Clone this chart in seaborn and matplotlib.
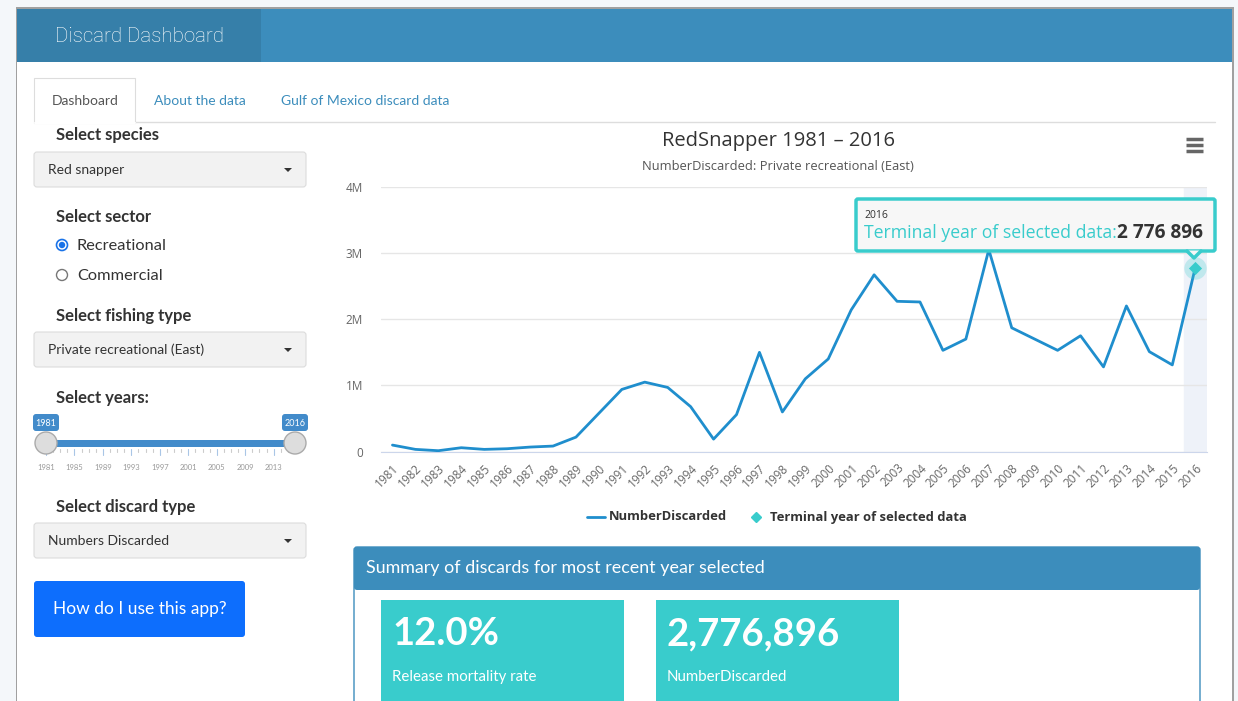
import matplotlib
matplotlib.use("Agg")
import matplotlib.pyplot as plt
import matplotlib.patches as mpatches
from matplotlib.ticker import FuncFormatter, FixedLocator
import seaborn as sns
import pandas as pd

# Data
years = [str(y) for y in range(1981, 2017)]
discarded = [100000, 35000, 15000, 60000, 35000, 45000, 70000, 85000, 220000, 580000,
             940000, 1050000, 970000, 680000, 190000, 560000, 1500000, 600000, 1100000, 1400000,
             2140000, 2670000, 2270000, 2260000, 1530000, 1700000, 3050000, 1870000, 1700000, 1530000,
             1750000, 1280000, 2200000, 1510000, 1310000, 2776896]
terminal_year = "2016"
terminal_value = 2776896
mortality_rate = "12.0%"
slider_ticks = ["1981", "1985", "1989", "1993", "1997", "2001", "2005", "2009", "2013"]

W, H = 1238, 701
BLUE = "#3c8dbc"
DARK_BLUE = "#367fa9"
TEAL = "#39cccc"
LINE = "#1f8ecd"
UI_FONT = "Lato"
CH_FONT = "Open Sans"

sns.set_style("white")
plt.rcParams["font.family"] = [UI_FONT, "DejaVu Sans"]

fig = plt.figure(figsize=(W / 100, H / 100), dpi=100)
fig.patch.set_facecolor("#f4f7fa")

# background axes in pixel coordinates for the dashboard frame
bg = fig.add_axes([0, 0, 1, 1], zorder=0)
bg.set_xlim(0, W)
bg.set_ylim(H, 0)
bg.axis("off")


def rect(ax, x0, y0, x1, y1, fc, ec="none", lw=0, z=1, rounded=False):
    if rounded:
        p = mpatches.FancyBboxPatch((x0, y0), x1 - x0, y1 - y0,
                                    boxstyle="round,pad=0,rounding_size=3",
                                    fc=fc, ec=ec, lw=lw, zorder=z)
    else:
        p = mpatches.Rectangle((x0, y0), x1 - x0, y1 - y0, fc=fc, ec=ec, lw=lw, zorder=z)
    ax.add_patch(p)
    return p


# frame and header
rect(bg, 16, 7, 1234, H + 5, "#a0a0a0")
rect(bg, 17, 9, 1232, H + 5, "white")
rect(bg, 17, 9, 1232, 62, BLUE)
rect(bg, 17, 9, 261, 62, DARK_BLUE)
bg.text(55, 36, "Discard Dashboard", color="white", fontsize=14.8, family="Roboto",
        fontweight="light", va="center")

# tabs
bg.plot([135, 1215], [122, 122], color="#dddddd", lw=1, zorder=2)
rect(bg, 34, 78, 135, 123, "white", ec="#dddddd", lw=0.8, z=3)
bg.plot([34.5, 134.5], [122.5, 122.5], color="white", lw=1.5, zorder=4)
bg.text(85, 101, "Dashboard", fontsize=10, color="#555555", ha="center", va="center", zorder=5)
bg.text(200, 101, "About the data", fontsize=10, color="#3c8dbc", ha="center", va="center")
bg.text(365, 101, "Gulf of Mexico discard data", fontsize=10, color="#3c8dbc", ha="center", va="center")


# left panel widgets
def label(y, s):
    bg.text(56, y, s, fontsize=12, fontweight="bold", color="#333333", va="center")


def dropdown(y0, s):
    rect(bg, 34, y0, 306, y0 + 35, "#f2f2f2", ec="#dcdcdc", lw=0.8, rounded=True)
    bg.text(48, y0 + 18, s, fontsize=10, color="#333333", va="center")
    bg.add_patch(mpatches.Polygon([[284, y0 + 16], [292, y0 + 16], [288, y0 + 20]],
                                  fc="#333333", ec="none", zorder=3))


label(135, "Select species")
dropdown(152, "Red snapper")
label(217, "Select sector")
bg.add_patch(mpatches.Circle((62, 245), 5.5, fc="white", ec="#1a73e8", lw=1.2, zorder=3))
bg.add_patch(mpatches.Circle((62, 245), 3.2, fc="#1a73e8", ec="none", zorder=4))
bg.text(77, 246, "Recreational", fontsize=11.8, color="#333333", va="center")
bg.add_patch(mpatches.Circle((62, 275), 5.5, fc="white", ec="#777777", lw=1, zorder=3))
bg.text(77, 276, "Commercial", fontsize=11.8, color="#333333", va="center")
label(316, "Select fishing type")
dropdown(332, "Private recreational (East)")
label(398, "Select years:")

# slider
rect(bg, 46, 440, 295, 447, "#428bca", z=2)
for i in range(36):
    x = 46 + i * (249 / 35)
    big = i % 4 == 0
    bg.plot([x, x], [449, 455 if big else 452], color="#a9c6e6" if big else "#cccccc", lw=0.8)
for i, t in enumerate(slider_ticks):
    bg.text(46 + i * 4 * (249 / 35), 468, t, fontsize=5.5, color="#999999", ha="center", va="center")
for x, t in [(46, "1981"), (295, "2016")]:
    rect(bg, x - 13, 414, x + 13, 431, "#428bca", z=3, rounded=True)
    bg.text(x, 423, t, fontsize=6.5, color="white", ha="center", va="center", zorder=4)
    bg.add_patch(mpatches.Circle((x, 443), 11, fc="#dddddd", ec="#aaaaaa", lw=1, zorder=5))

label(507, "Select discard type")
dropdown(523, "Numbers Discarded")
rect(bg, 34, 581, 245, 637, "#0d6efd", rounded=True)
bg.text(140, 609, "How do I use this app?", fontsize=12.5, color="white", ha="center", va="center")

# chart titles and menu icon
bg.text(778, 141, "RedSnapper 1981 \u2013 2016", fontsize=14.5, color="#333333", ha="center",
        va="center", family=CH_FONT)
bg.text(778, 166, "NumberDiscarded: Private recreational (East)", fontsize=9.3, color="#555555",
        ha="center", va="center", family=CH_FONT)
for yy in (139, 145, 151):
    bg.plot([1186, 1203], [yy, yy], color="#666666", lw=2.5, solid_capstyle="butt")

# summary box
rect(bg, 354, 547, 1200, H + 5, "white", ec=BLUE, lw=1, rounded=True)
rect(bg, 354, 547, 1200, 590, BLUE, rounded=True)
bg.text(366, 568, "Summary of discards for most recent year selected", fontsize=12.9,
        color="white", va="center")
for x0, big, small in [(381, mortality_rate, "Release mortality rate"),
                       (656, f"{terminal_value:,}", "NumberDiscarded")]:
    rect(bg, x0, 600, x0 + 243, H + 5, TEAL)
    bg.text(x0 + 11, 634, big, fontsize=27.5, fontweight="bold", color="white", va="center")
    bg.text(x0 + 11, 677, small, fontsize=10.8, color="white", va="center")

# the chart itself
x0, x1, y0, y1 = 381, 1206.7, 451.7, 186.7
ax = fig.add_axes([x0 / W, 1 - y0 / H, (x1 - x0) / W, (y0 - y1) / H], zorder=2)
ax.patch.set_alpha(0)
df = pd.DataFrame({"year": years, "NumberDiscarded": discarded})
ax.axvspan(len(years) - 1.5, len(years) - 0.5, color="#eef2f9", zorder=0)
sns.lineplot(data=df, x="year", y="NumberDiscarded", ax=ax, color=LINE, lw=2, zorder=3,
             legend=False)
ax.scatter([terminal_year], [terminal_value], s=260, color=TEAL, alpha=0.25, lw=0, zorder=4)
ax.scatter([terminal_year], [terminal_value], s=45, marker="D", color=TEAL, lw=0, zorder=5)
ax.set_xlim(-0.5, len(years) - 0.5)
ax.set_ylim(0, 4e6)
ax.set_yticks([0, 1e6, 2e6, 3e6, 4e6])
ax.yaxis.set_major_formatter(FuncFormatter(lambda v, p: "0" if v == 0 else f"{v / 1e6:.0f}M"))
ax.grid(axis="y", color="#e6e6e6", lw=1)
ax.set_axisbelow(True)
for s in ["top", "right", "left"]:
    ax.spines[s].set_visible(False)
ax.spines["bottom"].set_color("#ccd6eb")
ax.set_xlabel("")
ax.set_ylabel("")
ax.tick_params(axis="y", length=0, pad=13, labelsize=8.5, labelcolor="#666666")
ax.tick_params(axis="x", which="major", length=0, pad=7, labelsize=8.5, labelcolor="#666666")
ax.xaxis.set_minor_locator(FixedLocator([i - 0.5 for i in range(len(years) + 1)]))
ax.tick_params(axis="x", which="minor", length=7, color="#ccd6eb", width=1)
for lab in ax.get_xticklabels():
    lab.set_rotation(45)
    lab.set_ha("right")
    lab.set_rotation_mode("anchor")
    lab.set_family(CH_FONT)
for lab in ax.get_yticklabels():
    lab.set_family(CH_FONT)

# overlay for tooltip and legend
ov = fig.add_axes([0, 0, 1, 1], zorder=3)
ov.set_xlim(0, W)
ov.set_ylim(H, 0)
ov.axis("off")
tip = mpatches.FancyBboxPatch((856, 199), 359, 52, boxstyle="round,pad=0,rounding_size=2",
                              fc="#f7f7f7", ec=TEAL, lw=2.5, zorder=2)
ov.add_patch(tip)
ov.add_patch(mpatches.Polygon([[1188, 250.5], [1200, 250.5], [1194, 257]], fc="#f7f7f7",
                              ec="none", zorder=3))
ov.plot([1187, 1194, 1201], [251, 258, 251], color=TEAL, lw=2.5, zorder=3)
ov.text(864, 215, terminal_year, fontsize=7.5, color="#333333", va="center", family=CH_FONT)
t1 = ov.text(864, 233, "Terminal year of selected data:", fontsize=12.7, color=TEAL,
             va="center", family=CH_FONT)
ov.annotate(f"{terminal_value:,}".replace(",", " "), xy=(1, 0.5), xycoords=t1,
            fontsize=13.8, fontweight="bold", color="#333333", va="center", ha="left",
            family=CH_FONT)

# legend
ov.plot([587, 605], [517, 517], color=LINE, lw=2)
ov.text(609, 517, "NumberDiscarded", fontsize=9.4, fontweight="bold", color="#333333",
        va="center", family=CH_FONT)
ov.plot([756], [517], marker="D", ms=5, color=TEAL, lw=0)
ov.text(770, 517, "Terminal year of selected data", fontsize=9.4, fontweight="bold",
        color="#333333", va="center", family=CH_FONT)

fig.savefig("out.png", dpi=100)
